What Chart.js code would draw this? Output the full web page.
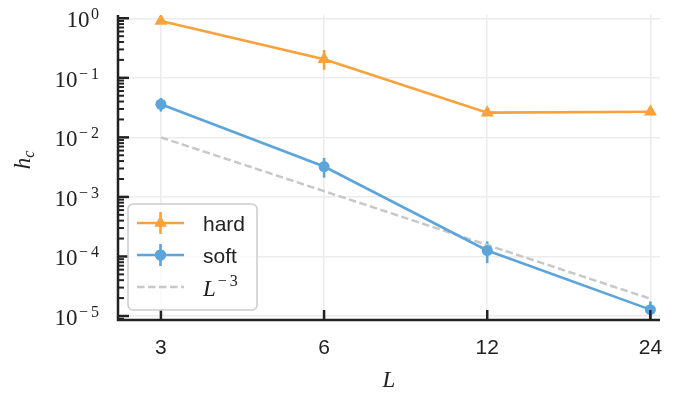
<!DOCTYPE html>
<html>
<head>
<meta charset="utf-8">
<script src="https://cdn.jsdelivr.net/npm/chart.js@4.4.1/dist/chart.umd.min.js"></script>
<style>
  html, body { margin: 0; padding: 0; background: #fff; }
</style>
</head>
<body>
<canvas id="hcChart" width="686" height="393"></canvas>
<script>
// system sizes
const sizes = [3, 6, 12, 24];

// hard constraint
const hardY = [0.90, 0.205, 0.026, 0.027];
const hardLo = [0.87, 0.136, 0.025, 0.026];
const hardHi = [0.93, 0.294, 0.027, 0.028];

// soft constraint
const softY = [0.036, 0.00324, 1.26e-4, 1.28e-5];
const softLo = [0.0271, 0.0021, 7.75e-5, 8.5e-6];
const softHi = [0.046, 0.00453, 1.79e-4, 1.76e-5];

// L^-3 reference line
const refY = [0.01, 0.00125, 1.56e-4, 1.95e-5];

// tick labels
const xTicks = [3, 6, 12, 24];
const yTicks = [1, 1e-1, 1e-2, 1e-3, 1e-4, 1e-5];
const yExp = ['0', '-1', '-2', '-3', '-4', '-5'];
const yMinor = [];
for (let k = -6; k <= 0; k++) {
  for (let m = 2; m <= 9; m++) yMinor.push(m * Math.pow(10, k));
}

const ORANGE = '#f9a13a';
const BLUE = '#5ba4dc';
const GREY = '#c8c8c8';
const INK = '#222222';
const SERIF = '"Liberation Serif", serif';

const toPts = (ys) => sizes.map((L, i) => ({ x: L, y: ys[i] }));

// draws a math-style exponent (minus sign + digit), left aligned at x; returns its width
function drawExp(ctx, txt, x, y, measureOnly) {
  ctx.font = '16px ' + SERIF;
  let w = 0;
  const neg = txt.startsWith('-');
  const digit = neg ? txt.slice(1) : txt;
  if (neg) {
    if (!measureOnly) ctx.fillText('\u2212', x, y);
    w += ctx.measureText('\u2212').width + 3;
  }
  if (!measureOnly) ctx.fillText(digit, x + w, y);
  w += ctx.measureText(digit).width;
  return w;
}

const errorBars = {
  id: 'errorBars',
  beforeDatasetsDraw(chart) {
    const { ctx, chartArea, scales: { x, y } } = chart;
    ctx.save();
    ctx.beginPath();
    ctx.rect(chartArea.left, chartArea.top, chartArea.right - chartArea.left, chartArea.bottom - chartArea.top);
    ctx.clip();
    ctx.lineWidth = 2.6;
    [[hardLo, hardHi, ORANGE], [softLo, softHi, BLUE]].forEach(([lo, hi, col]) => {
      ctx.strokeStyle = col;
      sizes.forEach((L, i) => {
        const px = x.getPixelForValue(L);
        ctx.beginPath();
        ctx.moveTo(px, y.getPixelForValue(lo[i]));
        ctx.lineTo(px, y.getPixelForValue(hi[i]));
        ctx.stroke();
      });
    });
    ctx.restore();
  }
};

const axesDecor = {
  id: 'axesDecor',
  afterDatasetsDraw(chart) {
    const { ctx, chartArea: a, scales: { x, y } } = chart;
    ctx.save();
    ctx.strokeStyle = INK;
    ctx.lineWidth = 2.5;
    // spines
    ctx.beginPath();
    ctx.moveTo(a.left, a.top);
    ctx.lineTo(a.left, a.bottom);
    ctx.lineTo(a.right, a.bottom);
    ctx.stroke();
    // y ticks (inward)
    yTicks.forEach(v => {
      const py = y.getPixelForValue(v);
      ctx.beginPath(); ctx.moveTo(a.left, py); ctx.lineTo(a.left + 11, py); ctx.stroke();
    });
    ctx.lineWidth = 2;
    yMinor.forEach(v => {
      if (v < y.min || v > y.max) return;
      const py = y.getPixelForValue(v);
      ctx.beginPath(); ctx.moveTo(a.left, py); ctx.lineTo(a.left + 6, py); ctx.stroke();
    });
    ctx.lineWidth = 2.5;
    xTicks.forEach(v => {
      const px = x.getPixelForValue(v);
      ctx.beginPath(); ctx.moveTo(px, a.bottom); ctx.lineTo(px, a.bottom - 10); ctx.stroke();
    });

    // tick labels
    ctx.fillStyle = INK;
    ctx.font = '21px "Liberation Sans", Arial, sans-serif';
    ctx.textAlign = 'center';
    ctx.textBaseline = 'alphabetic';
    xTicks.forEach(v => ctx.fillText(String(v), x.getPixelForValue(v), 354));

    ctx.textAlign = 'left';
    yTicks.forEach((v, i) => {
      const py = y.getPixelForValue(v);
      const ew = drawExp(ctx, yExp[i], 0, 0, true);
      drawExp(ctx, yExp[i], 99 - ew, py + 1, false);
      ctx.font = '23px ' + SERIF;
      const tw = ctx.measureText('10').width;
      ctx.fillText('10', 99 - ew - 1.5 - tw, py + 9);
    });

    // axis titles
    ctx.textAlign = 'center';
    ctx.font = 'italic 23px ' + SERIF;
    ctx.fillText('L', (a.left + a.right) / 2, 387);

    ctx.save();
    ctx.translate(30, 160);
    ctx.rotate(-Math.PI / 2);
    ctx.textAlign = 'left';
    ctx.font = 'italic 23px ' + SERIF;
    const hw = ctx.measureText('h').width;
    ctx.font = 'italic 16px ' + SERIF;
    const cw = ctx.measureText('c').width;
    const start = -(hw + cw) / 2;
    ctx.font = 'italic 23px ' + SERIF;
    ctx.fillText('h', start, 0);
    ctx.font = 'italic 16px ' + SERIF;
    ctx.fillText('c', start + hw, 4);
    ctx.restore();
    ctx.restore();
  }
};

const legendBox = {
  id: 'legendBox',
  afterDraw(chart) {
    const { ctx } = chart;
    ctx.save();
    const bx = 128, by = 204, bw = 129, bh = 106;
    ctx.fillStyle = 'rgba(255,255,255,0.8)';
    ctx.strokeStyle = '#cccccc';
    ctx.lineWidth = 1.5;
    ctx.beginPath();
    ctx.roundRect(bx, by, bw, bh, 5);
    ctx.fill();
    ctx.stroke();

    const x0 = 137, x1 = 184, xm = (x0 + x1) / 2;
    const rows = [223, 255, 287];
    ctx.lineWidth = 2.6;
    [[ORANGE, rows[0], 'triangle'], [BLUE, rows[1], 'circle']].forEach(([col, ry, shape]) => {
      ctx.strokeStyle = col;
      ctx.fillStyle = col;
      ctx.beginPath(); ctx.moveTo(x0, ry); ctx.lineTo(x1, ry); ctx.stroke();
      ctx.beginPath(); ctx.moveTo(xm, ry - 11); ctx.lineTo(xm, ry + 11); ctx.stroke();
      Chart.helpers.drawPoint(ctx, { pointStyle: shape, radius: shape === 'triangle' ? 7 : 5.5, borderWidth: 0 }, xm, ry);
      ctx.fill();
    });
    ctx.strokeStyle = GREY;
    ctx.setLineDash([7.5, 3.5]);
    ctx.beginPath(); ctx.moveTo(x0, rows[2]); ctx.lineTo(x1, rows[2]); ctx.stroke();
    ctx.setLineDash([]);

    ctx.fillStyle = INK;
    ctx.textAlign = 'left';
    ctx.textBaseline = 'alphabetic';
    ctx.font = '21px "Liberation Sans", Arial, sans-serif';
    ctx.fillText('hard', 203, rows[0] + 8);
    ctx.fillText('soft', 203, rows[1] + 8);
    ctx.font = 'italic 23px ' + SERIF;
    ctx.fillText('L', 203, rows[2] + 9);
    const lw = ctx.measureText('L').width;
    drawExp(ctx, '-3', 203 + lw + 2, rows[2] - 1, false);
    ctx.restore();
  }
};

new Chart('hcChart', {
  type: 'scatter',
  data: {
    datasets: [
      {
        label: 'hard',
        data: toPts(hardY),
        showLine: true,
        borderColor: ORANGE,
        backgroundColor: ORANGE,
        borderWidth: 2.6,
        pointStyle: 'triangle',
        pointRadius: 7.5,
        pointBorderWidth: 0,
      },
      {
        label: 'soft',
        data: toPts(softY),
        showLine: true,
        borderColor: BLUE,
        backgroundColor: BLUE,
        borderWidth: 2.6,
        pointStyle: 'circle',
        pointRadius: 5.5,
        pointBorderWidth: 0,
      },
      {
        label: 'L^-3',
        data: toPts(refY),
        showLine: true,
        borderColor: GREY,
        borderWidth: 2.5,
        borderDash: [7.5, 3.5],
        pointRadius: 0,
      },
    ],
  },
  options: {
    responsive: false,
    animation: false,
    devicePixelRatio: 1,
    layout: { padding: { left: 118, right: 26, top: 15, bottom: 73 } },
    plugins: { legend: { display: false }, tooltip: { enabled: false } },
    scales: {
      x: {
        type: 'logarithmic',
        min: 2.5,
        max: 25,
        afterBuildTicks: (axis) => { axis.ticks = xTicks.map(v => ({ value: v })); },
        ticks: { display: false },
        grid: { color: '#ececec', lineWidth: 1.5, drawTicks: false },
        border: { display: false },
      },
      y: {
        type: 'logarithmic',
        min: Math.pow(10, -5.067),
        max: Math.pow(10, 0.055),
        afterBuildTicks: (axis) => { axis.ticks = yTicks.map(v => ({ value: v })); },
        ticks: { display: false },
        grid: { color: '#ececec', lineWidth: 1.5, drawTicks: false },
        border: { display: false },
      },
    },
  },
  plugins: [errorBars, axesDecor, legendBox],
});
</script>
</body>
</html>
